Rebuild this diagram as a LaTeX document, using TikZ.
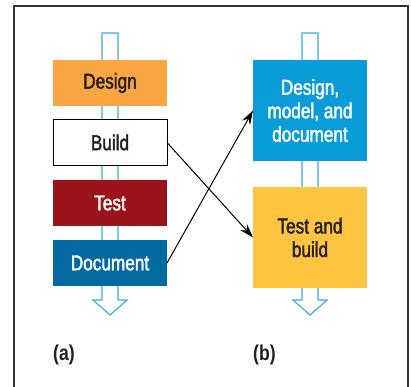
\documentclass[tikz,border=0pt]{standalone}
\usepackage{fontspec}
\setmainfont{Liberation Sans}[FakeStretch=0.82]
\newfontfamily\boxfont{Liberation Sans}[FakeStretch=0.8, FakeBold=1.8]
\usetikzlibrary{arrows.meta}
\definecolor{cOrange}{HTML}{F9A541}
\definecolor{cRed}{HTML}{9B1419}
\definecolor{cDBlue}{HTML}{036AA1}
\definecolor{cLBlue}{HTML}{0A9BD9}
\definecolor{cYellow}{HTML}{FFC540}
\definecolor{cShaft}{HTML}{3AAEE6}
\definecolor{cText}{HTML}{231F20}
\definecolor{cFrame}{HTML}{333333}
\tikzset{
  box/.style={minimum width=114pt, inner sep=0pt, outer sep=0pt, align=center,
    font=\boxfont\fontsize{21.5}{23.5}\selectfont, text=cText},
  shaft/.style={draw=cShaft, line width=1.2pt, fill=white},
  link/.style={draw=black, line width=1pt, -{Stealth[length=14pt,width=9pt]}},
  lab/.style={font=\fontsize{21.5}{23}\selectfont\bfseries, text=cText, anchor=base west, inner sep=0pt}
}
\begin{document}
\begin{tikzpicture}[x=1pt,y=-1pt]
\useasboundingbox (0,0) rectangle (411,386);
\fill[white] (0,0) rectangle (411,386);
\draw[cFrame, line width=2pt] (13.5,395) -- (13.5,5.5) -- (408,5.5) -- (408,395);
% shafts
\draw[shaft] (102,300) -- (102,33) -- (118,33) -- (118,300) -- (127,300) -- (110,315) -- (93,300) -- cycle;
\draw[shaft] (302,300) -- (302,33) -- (318,33) -- (318,300) -- (327,300) -- (310,315) -- (293,300) -- cycle;
% left boxes
\node[box, fill=cOrange, minimum height=46pt] (design) at (110,83) {Design};
\node[box, fill=white, draw=black, line width=0.8pt, minimum height=46pt] (build) at (110,142.5) {Build};
\node[box, fill=cRed, text=white, minimum height=46pt] (test) at (110,203) {Test};
\node[box, fill=cDBlue, text=white, minimum height=46pt] (doc) at (110,263) {Document};
% right boxes
\node[box, fill=cLBlue, text=white, minimum height=101pt] (dmd) at (310,110.5) {Design,\\model, and\\document};
\node[box, fill=cYellow, minimum height=101pt] (tb) at (310,237.5) {Test and\\build};
% links
\draw[link] (build.east) -- (tb.west);
\draw[link] (doc.east) -- (dmd.west);
% labels
\node[lab] (la) at (53,360) {(a)};
\node[lab] (lb) at (253,360) {(b)};
\end{tikzpicture}
\end{document}
